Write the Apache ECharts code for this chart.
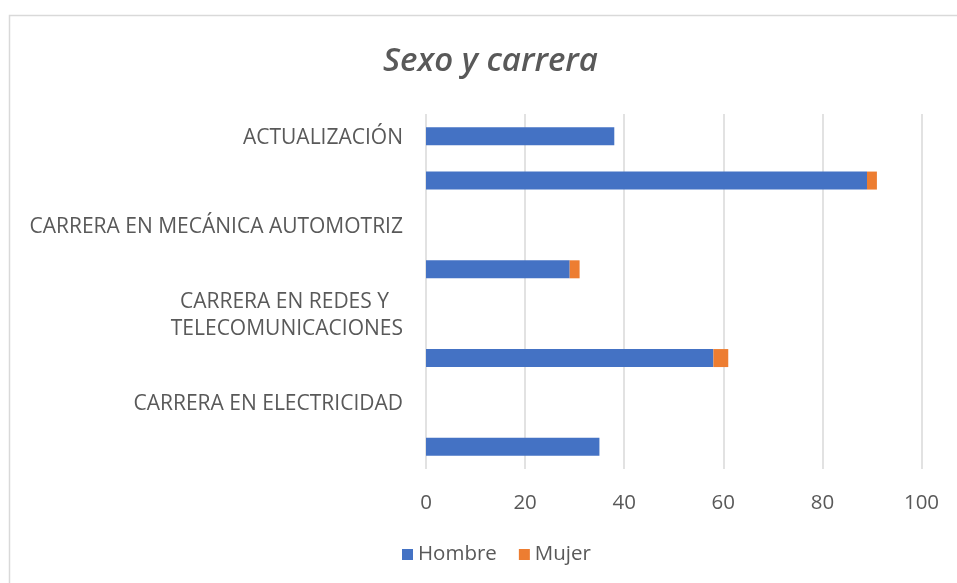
<!DOCTYPE html>
<html>
<head>
<meta charset="utf-8">
<script src="https://cdn.jsdelivr.net/npm/echarts@6/dist/echarts.min.js"></script>
<style>
  html, body { margin: 0; padding: 0; background: #ffffff; }
  #chart { width: 957px; height: 583px; }
</style>
</head>
<body>
<div id="chart"></div>
<script>
// categories top to bottom (the Excel chart leaves every other row without label)
const categories = [
  "ACTUALIZACIÓN",
  "",
  "CARRERA EN MECÁNICA AUTOMOTRIZ",
  "",
  "CARRERA EN REDES Y\nTELECOMUNICACIONES",
  "",
  "CARRERA EN ELECTRICIDAD",
  ""
];
const hombre = [38, 89, null, 29, null, 58, null, 35];
const mujer = [null, 2, null, 2, null, 3, null, null];
const ticks = [0, 20, 40, 60, 80, 100];

const textColor = "#595959";
const font = "Open Sans";

let myChart = echarts.init(document.getElementById("chart"));

let option = {
  backgroundColor: "#ffffff",
  textStyle: { fontFamily: font, color: textColor },
  graphic: [
    {
      type: "rect",
      shape: { x: 9.5, y: 15.5, width: 1000, height: 1000 },
      style: { fill: "none", stroke: "#d9d9d9", lineWidth: 1.5 },
      silent: true
    }
  ],
  title: {
    text: "Sexo y carrera",
    left: 378,
    top: 40,
    textStyle: {
      fontFamily: font,
      fontSize: 33,
      fontStyle: "italic",
      fontWeight: 600,
      color: textColor
    }
  },
  legend: {
    top: 539,
    left: 397,
    icon: "rect",
    itemWidth: 11,
    itemHeight: 11,
    itemGap: 22,
    textStyle: { fontFamily: font, fontSize: 20.5, color: textColor },
    data: ["Hombre", "Mujer"]
  },
  grid: {
    left: 426,
    right: 35.5,
    top: 114,
    bottom: 114,
    containLabel: false
  },
  xAxis: {
    type: "value",
    min: ticks[0],
    max: ticks[ticks.length - 1],
    interval: 20,
    axisLine: { show: false },
    axisTick: { show: false },
    axisLabel: {
      fontFamily: font,
      fontSize: 20.5,
      color: textColor,
      margin: 24
    },
    splitLine: { show: true, lineStyle: { color: "#d9d9d9", width: 1.5 } }
  },
  yAxis: {
    type: "category",
    inverse: true,
    data: categories,
    axisLine: { show: false },
    axisTick: { show: false },
    axisLabel: {
      interval: 0,
      fontFamily: font,
      fontSize: 21,
      color: textColor,
      margin: 23,
      lineHeight: 27,
      padding: [4, 0, 0, 0],
      formatter: function (value) {
        let lines = value.split("\n");
        if (lines.length > 1) {
          return "{a|" + lines[0] + "}\n{b|" + lines[1] + "}";
        }
        return value;
      },
      rich: {
        a: { fontFamily: font, fontSize: 21, color: textColor, lineHeight: 27, padding: [0, 14, 0, 0] },
        b: { fontFamily: font, fontSize: 21, color: textColor, lineHeight: 27 }
      }
    },
    splitLine: { show: false }
  },
  series: [
    {
      name: "Hombre",
      type: "bar",
      stack: "total",
      barWidth: 18,
      itemStyle: { color: "#4472c4" },
      data: hombre
    },
    {
      name: "Mujer",
      type: "bar",
      stack: "total",
      barWidth: 18,
      itemStyle: { color: "#ed7d31" },
      data: mujer
    }
  ]
};

myChart.setOption(option);
window.onresize = () => {
  myChart.resize();
};
</script>
</body>
</html>
